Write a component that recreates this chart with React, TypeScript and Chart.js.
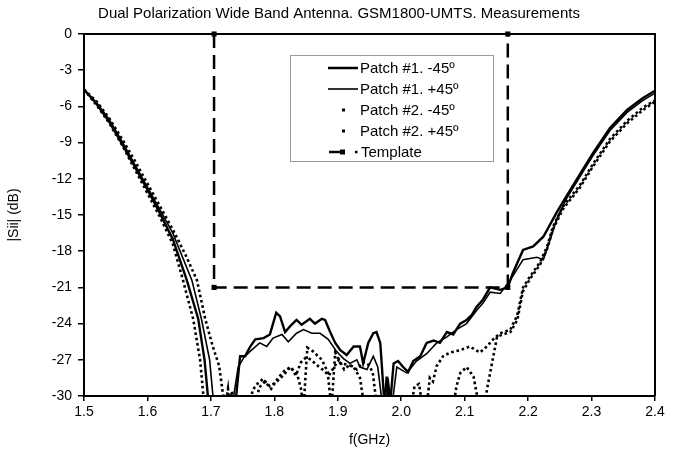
import React, { useEffect, useRef } from "react";
import { Chart, registerables } from "chart.js";

Chart.register(...registerables);

const chartTitle = "Dual Polarization Wide Band Antenna. GSM1800-UMTS. Measurements";
const xAxisTitle = "f(GHz)";
const yAxisTitle = "|Sii| (dB)";
const seriesLabels = ["Patch #1. -45º", "Patch #1. +45º", "Patch #2. -45º", "Patch #2. +45º", "Template"];
const xTicks = [1.5, 1.6, 1.7, 1.8, 1.9, 2.0, 2.1, 2.2, 2.3, 2.4];
const yTicks = [0, -3, -6, -9, -12, -15, -18, -21, -24, -27, -30];

// [frequency GHz, |S11| dB]; values of -31 mean "below the -30 dB axis floor"
const patch1Minus45: [number, number][] = [
  [1.5, -4.6], [1.52, -5.8], [1.54, -7.3], [1.56, -9.1], [1.58, -11.0], [1.6, -12.9], [1.62, -14.9], [1.64, -17.0],
  [1.662, -20.4], [1.68, -23.6], [1.69, -27.0], [1.697, -31],
  [1.738, -31], [1.746, -26.7], [1.754, -26.7], [1.762, -25.9], [1.77, -25.3], [1.783, -25.2], [1.793, -24.9],
  [1.803, -23.1], [1.809, -23.4], [1.817, -24.7], [1.827, -24.1], [1.835, -23.7], [1.843, -24.1], [1.856, -23.6],
  [1.864, -24.0], [1.875, -23.6], [1.88, -23.7], [1.888, -24.7], [1.896, -25.6], [1.904, -26.2], [1.914, -26.6],
  [1.925, -25.9], [1.935, -25.9], [1.94, -27.3], [1.948, -25.6], [1.956, -24.8], [1.961, -24.7], [1.967, -25.6],
  [1.974, -31], [1.977, -28.4], [1.982, -31], [1.988, -27.3], [1.995, -27.1], [2.003, -27.6], [2.011, -28.0],
  [2.019, -27.1], [2.03, -26.7], [2.04, -25.6], [2.051, -25.4], [2.061, -25.6], [2.072, -24.7], [2.082, -24.9],
  [2.093, -24.0], [2.103, -23.7], [2.111, -23.3], [2.119, -22.6], [2.129, -22.0], [2.14, -21.0], [2.156, -21.2],
  [2.168, -21.0], [2.176, -19.8], [2.192, -17.9], [2.208, -17.6], [2.224, -16.8], [2.246, -14.7], [2.261, -13.4],
  [2.282, -11.6], [2.302, -9.9], [2.329, -7.8], [2.356, -6.3], [2.381, -5.3], [2.4, -4.7],
];

const patch1Plus45: [number, number][] = [
  [1.5, -4.6], [1.52, -5.7], [1.54, -7.1], [1.56, -8.9], [1.58, -10.8], [1.6, -12.7], [1.62, -14.6], [1.64, -16.5],
  [1.67, -20.4], [1.685, -23.6], [1.698, -27.0], [1.705, -31],
  [1.733, -31], [1.743, -27.6], [1.752, -26.8], [1.764, -26.2], [1.777, -25.6], [1.788, -25.9], [1.798, -25.2],
  [1.812, -24.9], [1.822, -25.5], [1.835, -24.8], [1.846, -24.5], [1.859, -24.8], [1.872, -24.8], [1.885, -25.3],
  [1.898, -26.3], [1.909, -26.9], [1.919, -27.3], [1.93, -27.0], [1.935, -27.6], [1.946, -27.8], [1.956, -26.7],
  [1.963, -27.6], [1.971, -31], [1.976, -31], [1.98, -28.9], [1.985, -31], [1.993, -27.6], [2.009, -28.1],
  [2.024, -27.1], [2.04, -26.5], [2.056, -25.6], [2.072, -25.1], [2.087, -24.5], [2.103, -24.0], [2.119, -22.9],
  [2.129, -22.3], [2.14, -21.4], [2.156, -21.5], [2.172, -20.4], [2.192, -18.7], [2.214, -18.5], [2.224, -18.7],
  [2.235, -17.0], [2.246, -15.2], [2.261, -13.6], [2.282, -11.8], [2.302, -10.1], [2.329, -8.0], [2.356, -6.5],
  [2.381, -5.5], [2.4, -4.9],
];

const patch2Minus45: [number, number][] = [
  [1.5, -4.6], [1.52, -5.9], [1.54, -7.4], [1.56, -9.2], [1.58, -11.2], [1.6, -13.2], [1.62, -15.2], [1.64, -17.4],
  [1.656, -20.4], [1.672, -23.6], [1.683, -27.0], [1.69, -31],
  [1.76, -31], [1.766, -29.5], [1.773, -29.0], [1.782, -28.6], [1.793, -29.2], [1.804, -28.8], [1.814, -28.3],
  [1.825, -27.6], [1.836, -28.2], [1.842, -29.4], [1.846, -31], [1.852, -26.0], [1.861, -26.3], [1.875, -27.0],
  [1.884, -28.0], [1.89, -31], [1.896, -26.4], [1.904, -27.3], [1.915, -27.4], [1.925, -27.6], [1.935, -28.5],
  [1.942, -31], [2.015, -31], [2.021, -29.2], [2.028, -29.0], [2.034, -31], [2.082, -31], [2.087, -29.2],
  [2.093, -28.1], [2.103, -27.6], [2.114, -28.4], [2.119, -29.8], [2.122, -31], [2.132, -31], [2.135, -29.5],
  [2.151, -25.1], [2.16, -24.9], [2.172, -24.7], [2.183, -23.7], [2.192, -21.3], [2.203, -20.3], [2.219, -19.1],
  [2.23, -17.8], [2.239, -16.2], [2.255, -14.5], [2.282, -12.7], [2.302, -11.0], [2.329, -8.9], [2.356, -7.4],
  [2.381, -6.3], [2.4, -5.6],
];

const patch2Plus45: [number, number][] = [
  [1.5, -4.6], [1.52, -5.6], [1.54, -7.0], [1.56, -8.7], [1.58, -10.5], [1.6, -12.4], [1.62, -14.3], [1.64, -16.2],
  [1.66, -18.3], [1.678, -20.4], [1.691, -23.6], [1.703, -25.9], [1.713, -27.5], [1.722, -31], [1.727, -29.4],
  [1.73, -31], [1.733, -29.6], [1.736, -31],
  [1.77, -31], [1.776, -29.3], [1.785, -28.8], [1.795, -29.4], [1.806, -28.5], [1.816, -27.9], [1.826, -27.6],
  [1.834, -28.3], [1.842, -27.2], [1.85, -26.8], [1.858, -27.0], [1.866, -27.4], [1.876, -27.8], [1.886, -28.3],
  [1.894, -27.6], [1.902, -27.0], [1.91, -27.8], [1.919, -27.4], [1.93, -27.8], [1.94, -27.2], [1.948, -27.4],
  [1.955, -28.0], [1.962, -31], [2.04, -31], [2.045, -28.5], [2.05, -28.8], [2.056, -27.5], [2.066, -26.7],
  [2.077, -26.4], [2.093, -26.2], [2.108, -25.9], [2.124, -26.4], [2.135, -25.9], [2.145, -25.3], [2.156, -24.8],
  [2.172, -24.5], [2.183, -23.3], [2.192, -21.0], [2.203, -20.1], [2.219, -18.9], [2.23, -17.6], [2.239, -16.0],
  [2.255, -14.3], [2.282, -12.5], [2.302, -10.8], [2.329, -8.7], [2.356, -7.2], [2.381, -6.1], [2.4, -5.5],
];

const templateMask: [number, number][] = [
  [1.705, 0], [1.705, -21], [2.168, -21], [2.168, 0],
];

const FONT = '"Liberation Sans", Arial, Helvetica, sans-serif';

const toPts = (arr: [number, number][]) => arr.map(([x, y]) => ({ x, y }));

const decorPlugin = {
  id: "decor",
  afterDraw(chart: any) {
    const { ctx, chartArea: a } = chart;
    ctx.save();
    // frame (top & right)
    ctx.strokeStyle = "#000";
    ctx.lineWidth = 2;
    ctx.beginPath();
    ctx.moveTo(a.left, a.top);
    ctx.lineTo(a.right, a.top);
    ctx.lineTo(a.right, a.bottom);
    ctx.stroke();

    // title
    ctx.fillStyle = "#000";
    ctx.font = `15px ${FONT}`;
    ctx.textAlign = "center";
    ctx.textBaseline = "middle";
    ctx.fillText(chartTitle, 339, 14);

    // legend box
    const bx = 290.5, by = 55.5, bw = 203, bh = 106;
    ctx.fillStyle = "#fff";
    ctx.fillRect(bx, by, bw, bh);
    ctx.strokeStyle = "#9a9a9a";
    ctx.lineWidth = 1;
    ctx.strokeRect(bx, by, bw, bh);

    const rows = [68, 89, 110, 131, 152];
    const textX = 360;
    ctx.strokeStyle = "#000";
    ctx.fillStyle = "#000";
    // row 1: thick solid
    ctx.lineWidth = 2.5;
    ctx.beginPath(); ctx.moveTo(328, rows[0]); ctx.lineTo(358, rows[0]); ctx.stroke();
    // row 2: thinner solid
    ctx.lineWidth = 1.6;
    ctx.beginPath(); ctx.moveTo(328, rows[1]); ctx.lineTo(358, rows[1]); ctx.stroke();
    // rows 3,4: dotted sample (single dot)
    ctx.fillRect(342, rows[2] - 1.5, 3, 3);
    ctx.fillRect(342, rows[3] - 1.5, 3, 3);
    // row 5: template dashed with marker
    ctx.lineWidth = 2.5;
    ctx.beginPath(); ctx.moveTo(329, rows[4]); ctx.lineTo(341, rows[4]); ctx.stroke();
    ctx.fillRect(340, rows[4] - 2.5, 5, 5);
    ctx.fillRect(355, rows[4] - 1.2, 2.5, 2.5);

    ctx.font = `15px ${FONT}`;
    ctx.textAlign = "left";
    ctx.textBaseline = "middle";
    seriesLabels.forEach((t, i) => {
      ctx.fillText(t, i === 4 ? 361 : textX, rows[i] + 0.5);
    });
    ctx.restore();
  },
};

export default function App() {
  const ref = useRef<HTMLCanvasElement | null>(null);

  useEffect(() => {
    document.body.style.margin = "0";
    const canvas = ref.current;
    if (!canvas) return;

    const measured = (label: string, data: [number, number][], width: number, dash: number[]) => ({
      label,
      data: toPts(data),
      borderColor: "#000",
      backgroundColor: "#000",
      borderWidth: width,
      borderDash: dash,
      borderCapStyle: "butt" as const,
      borderJoinStyle: "miter" as const,
      pointRadius: 0,
      tension: 0,
      clip: 0,
    });

    const chart = new Chart(canvas, {
      type: "line",
      data: {
        datasets: [
          measured(seriesLabels[0], patch1Minus45, 2.4, []),
          measured(seriesLabels[1], patch1Plus45, 1.6, []),
          measured(seriesLabels[2], patch2Minus45, 2.6, [2.6, 2.8]),
          measured(seriesLabels[3], patch2Plus45, 2.6, [2.6, 2.8]),
          {
            label: seriesLabels[4],
            data: toPts(templateMask),
            borderColor: "#000",
            backgroundColor: "#000",
            borderWidth: 2.5,
            borderDash: [14, 7],
            pointStyle: "rect",
            pointRadius: 3.6,
            pointBorderWidth: 0,
            tension: 0,
            clip: 8,
          } as any,
        ],
      },
      options: {
        animation: false,
        responsive: false,
        devicePixelRatio: 1,
        parsing: false as any,
        layout: { padding: { top: 34, right: 25, left: 0, bottom: 0 } },
        plugins: {
          legend: { display: false },
          title: { display: false },
          tooltip: { enabled: false },
        },
        scales: {
          x: {
            type: "linear",
            min: 1.5,
            max: 2.4,
            afterFit: (s: any) => { s.height = 59; },
            afterBuildTicks: (s: any) => { s.ticks = xTicks.map((v) => ({ value: v })); },
            ticks: {
              color: "#000",
              font: { family: FONT, size: 14 },
              padding: 3,
              maxRotation: 0,
              autoSkip: false,
              callback: (v: any) => Number(v).toFixed(1),
            },
            grid: { drawOnChartArea: false, drawTicks: true, tickLength: 5, color: "#000", lineWidth: 1.5 },
            border: { display: true, color: "#000", width: 2 },
            title: {
              display: true,
              text: xAxisTitle,
              color: "#000",
              font: { family: FONT, size: 14 },
              padding: { top: 4, bottom: 6.6 },
            },
          },
          y: {
            type: "linear",
            min: -30,
            max: 0,
            afterFit: (s: any) => { s.width = 84; },
            afterBuildTicks: (s: any) => { s.ticks = yTicks.map((v) => ({ value: v })); },
            ticks: {
              color: "#000",
              font: { family: FONT, size: 14 },
              padding: 6,
              autoSkip: false,
              callback: (v: any) => String(v),
            },
            grid: { drawOnChartArea: false, drawTicks: true, tickLength: 6, color: "#000", lineWidth: 1.5 },
            border: { display: true, color: "#000", width: 2 },
            title: {
              display: true,
              text: yAxisTitle,
              color: "#000",
              font: { family: FONT, size: 14 },
              padding: { top: 5.6, bottom: 0 },
            },
          },
        },
      },
      plugins: [decorPlugin],
    });

    return () => chart.destroy();
  }, []);

  return (
    <div style={{ width: 680, height: 455, background: "#fff" }}>
      <canvas ref={ref} width={680} height={455} style={{ display: "block", width: 680, height: 455 }} />
    </div>
  );
}
